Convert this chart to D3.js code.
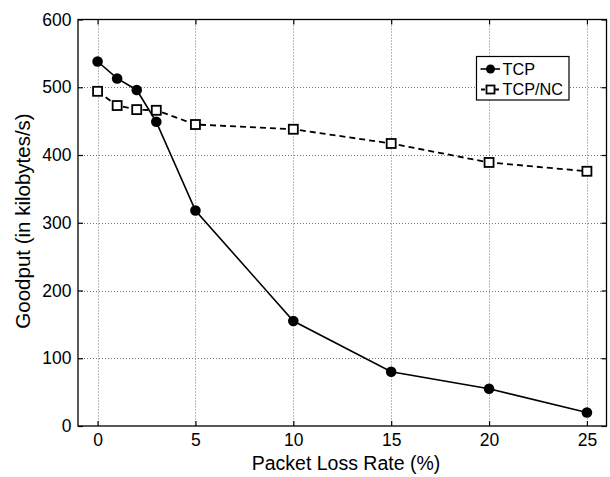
<!DOCTYPE html>
<html>
<head>
<meta charset="utf-8">
<script src="https://cdn.jsdelivr.net/npm/d3@7"></script>
<style>
  html, body { margin: 0; padding: 0; background: #fff; }
  svg { display: block; font-family: "Liberation Sans", Arial, sans-serif; }
</style>
</head>
<body>
<svg id="chart" width="610" height="477"></svg>
<script>
const lossRates = [0, 1, 2, 3, 5, 10, 15, 20, 25];
const tcpGoodput = [538, 513, 496, 449, 318, 155, 80, 55, 20];
const tcpNcGoodput = [494, 473, 467, 466, 445, 438, 417, 389, 376];
const xTicks = [0, 5, 10, 15, 20, 25];
const yTicks = [0, 100, 200, 300, 400, 500, 600];
const seriesNames = ["TCP", "TCP/NC"];

(function () {
const svg = d3.select("#chart");
const pL = 78, pR = 606.5, pT = 19.5, pB = 426;

const x = d3.scaleLinear().domain([-1, 26]).range([pL, pR]);
const y = d3.scaleLinear().domain([0, 600]).range([pB, pT]);

// grid
const grid = svg.append("g");
grid.selectAll(".gx").data(xTicks).enter().append("line")
  .attr("x1", d => Math.round(x(d)) + 0.5).attr("x2", d => Math.round(x(d)) + 0.5)
  .attr("y1", pT).attr("y2", pB)
  .attr("stroke", "#777").attr("stroke-width", 1).attr("stroke-dasharray", "1,2");
grid.selectAll(".gy").data(yTicks.filter(d => d > 0 && d < 600)).enter().append("line")
  .attr("y1", d => Math.round(y(d)) + 0.5).attr("y2", d => Math.round(y(d)) + 0.5)
  .attr("x1", pL).attr("x2", pR)
  .attr("stroke", "#777").attr("stroke-width", 1).attr("stroke-dasharray", "1,2");

// axes with inward ticks
const tickLen = 5;
const xAxisB = d3.axisBottom(x).tickValues(xTicks).tickSizeInner(-tickLen).tickSizeOuter(0).tickPadding(8);
const xAxisT = d3.axisTop(x).tickValues(xTicks).tickSizeInner(-tickLen).tickSizeOuter(0).tickFormat("");
const yAxisL = d3.axisLeft(y).tickValues(yTicks).tickSizeInner(-tickLen).tickSizeOuter(0).tickPadding(6.5);
const yAxisR = d3.axisRight(y).tickValues(yTicks).tickSizeInner(-tickLen).tickSizeOuter(0).tickFormat("");

function style(g) {
  g.select(".domain").remove();
  g.selectAll("line").attr("stroke", "#000").attr("stroke-width", 1.2);
  g.selectAll("text").attr("fill", "#000").style("font-size", "17.5px")
   .style("font-family", "'Liberation Sans', Arial, sans-serif");
}
svg.append("g").attr("transform", `translate(0,${pB})`).call(xAxisB).call(style);
svg.append("g").attr("transform", `translate(0,${pT})`).call(xAxisT).call(style);
svg.append("g").attr("transform", `translate(${pL},0)`).call(yAxisL).call(style);
svg.append("g").attr("transform", `translate(${pR},0)`).call(yAxisR).call(style);

// frame
svg.append("rect").attr("x", pL).attr("y", pT).attr("width", pR - pL).attr("height", pB - pT)
  .attr("fill", "none").attr("stroke", "#000").attr("stroke-width", 1.3);

// lines
const line = (vals) => d3.line().x((d, i) => x(lossRates[i])).y(d => y(d))(vals);
svg.append("path").attr("d", line(tcpGoodput)).attr("fill", "none")
  .attr("stroke", "#000").attr("stroke-width", 1.6);
svg.append("path").attr("d", line(tcpNcGoodput)).attr("fill", "none")
  .attr("stroke", "#000").attr("stroke-width", 1.8).attr("stroke-dasharray", "6,4");

// markers
svg.selectAll(".tcpm").data(tcpGoodput).enter().append("circle")
  .attr("cx", (d, i) => x(lossRates[i])).attr("cy", d => y(d)).attr("r", 5.3).attr("fill", "#000");
const s = 9;
svg.selectAll(".ncm").data(tcpNcGoodput).enter().append("rect")
  .attr("x", (d, i) => x(lossRates[i]) - s / 2).attr("y", d => y(d) - s / 2)
  .attr("width", s).attr("height", s).attr("fill", "#fff").attr("stroke", "#000").attr("stroke-width", 1.8);

// legend
const lg = svg.append("g");
lg.append("rect").attr("x", 476.5).attr("y", 56.5).attr("width", 92.5).attr("height", 43.5)
  .attr("fill", "#fff").attr("stroke", "#000").attr("stroke-width", 1.2);
const ly = [69, 89.5];
lg.append("line").attr("x1", 480.5).attr("x2", 500).attr("y1", ly[0]).attr("y2", ly[0]).attr("stroke", "#000").attr("stroke-width", 1.6);
lg.append("circle").attr("cx", 490.5).attr("cy", ly[0]).attr("r", 4.5).attr("fill", "#000");
lg.append("line").attr("x1", 481).attr("x2", 500).attr("y1", ly[1]).attr("y2", ly[1]).attr("stroke", "#000").attr("stroke-width", 1.8).attr("stroke-dasharray", "4,3");
lg.append("rect").attr("x", 486.5).attr("y", ly[1] - 4).attr("width", 8).attr("height", 8).attr("fill", "#fff").attr("stroke", "#000").attr("stroke-width", 1.8);
lg.selectAll(".lt").data(seriesNames).enter().append("text")
  .attr("x", 502.5).attr("y", (d, i) => [75, 94.5][i]).text(d => d)
  .style("font-size", "16.3px").attr("fill", "#000");

// axis titles
svg.append("text").attr("x", 346).attr("y", 469.5).attr("text-anchor", "middle")
  .style("font-size", "19.5px").text("Packet Loss Rate (%)");
svg.append("text").attr("transform", `translate(29.5,221) rotate(-90)`)
  .attr("text-anchor", "middle").style("font-size", "20.5px").text("Goodput (in kilobytes/s)");
})();
</script>
</body>
</html>
